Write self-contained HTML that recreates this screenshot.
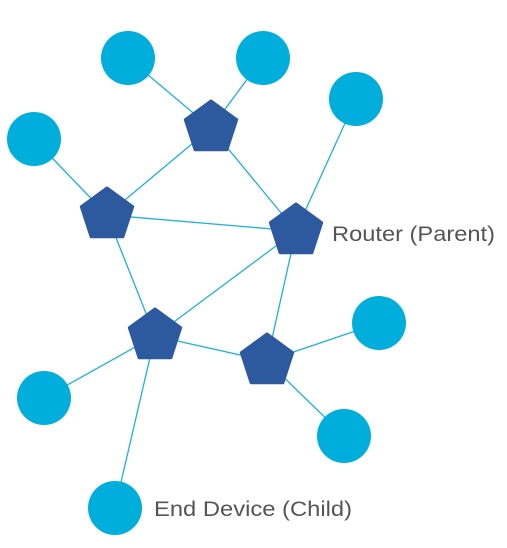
<!DOCTYPE html>
<html><head><style>
html,body{margin:0;padding:0;background:#fff;}
svg{display:block;}
</style></head><body>
<svg width="507" height="548" viewBox="0 0 507 548" xmlns="http://www.w3.org/2000/svg">
<defs>
<path id="pg" d="M0,-27 L25.7,-8.3 L15.9,21.8 L-15.9,21.8 L-25.7,-8.3 Z" fill="#2d5a9e" stroke="#2d5a9e" stroke-width="3" stroke-linejoin="round"/>
</defs>
<g stroke="#1eb1da" stroke-width="1.3">
<line x1="128" y1="58" x2="211" y2="128"/>
<line x1="263" y1="58" x2="211" y2="128"/>
<line x1="34" y1="139" x2="107" y2="215"/>
<line x1="211" y1="128" x2="107" y2="215"/>
<line x1="211" y1="128" x2="296" y2="231"/>
<line x1="107" y1="215" x2="296" y2="231"/>
<line x1="356" y1="99" x2="296" y2="231"/>
<line x1="107" y1="215" x2="155" y2="336"/>
<line x1="296" y1="231" x2="155" y2="336"/>
<line x1="296" y1="231" x2="267" y2="361"/>
<line x1="155" y1="336" x2="267" y2="361"/>
<line x1="267" y1="361" x2="379" y2="323"/>
<line x1="267" y1="361" x2="344" y2="436"/>
<line x1="155" y1="336" x2="44" y2="398"/>
<line x1="155" y1="336" x2="115" y2="508"/>
</g>
<g fill="#00aedb">
<circle cx="128" cy="58" r="27"/>
<circle cx="263" cy="58" r="27"/>
<circle cx="34" cy="139" r="27"/>
<circle cx="356" cy="99" r="27"/>
<circle cx="379" cy="323" r="27"/>
<circle cx="44" cy="398" r="27"/>
<circle cx="344" cy="436" r="27"/>
<circle cx="115" cy="508" r="27"/>
</g>
<use href="#pg" x="211" y="128"/>
<use href="#pg" x="107" y="215"/>
<use href="#pg" x="296" y="231"/>
<use href="#pg" x="155" y="336"/>
<use href="#pg" x="267" y="361"/>
<g font-family="Liberation Sans, sans-serif" font-size="21" fill="#555">
<text x="332" y="241" textLength="163" lengthAdjust="spacingAndGlyphs">Router (Parent)</text>
<text x="154" y="516" textLength="198" lengthAdjust="spacingAndGlyphs">End Device (Child)</text>
</g>
</svg>
</body></html>
